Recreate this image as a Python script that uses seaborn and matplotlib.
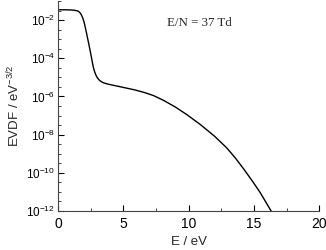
import numpy as np
import pandas as pd
import matplotlib
matplotlib.use("Agg")
import matplotlib.pyplot as plt
import matplotlib.ticker as mticker
import seaborn as sns

energy = [0, 0.5, 1.0, 1.3, 1.5, 1.6, 1.7, 1.8, 1.9, 2.0, 2.1, 2.25, 2.45, 2.6, 2.7, 2.8,
          2.9, 3.0, 3.1, 3.2, 3.35, 3.5, 3.75, 4.0, 4.75, 5.9, 6.6, 7.3, 8.07, 9.0, 9.86,
          10.88, 12.0, 12.93, 13.6, 14.2, 14.85, 15.48, 16.32, 16.5]
log_evdf = [-1.46, -1.46, -1.47, -1.49, -1.52, -1.56, -1.63, -1.74, -1.9, -2.12, -2.42,
            -2.9, -3.57, -4.1, -4.46, -4.7, -4.88, -5.01, -5.1, -5.17, -5.24, -5.29,
            -5.34, -5.38, -5.49, -5.66, -5.79, -5.95, -6.2, -6.56, -6.95, -7.46, -8.09,
            -8.7, -9.24, -9.78, -10.4, -11.03, -12.0, -12.2]
evdf = [10 ** v for v in log_evdf]
annotation = "E/N = 37 Td"

df = pd.DataFrame({"E": energy, "EVDF": evdf})

sns.set_style("ticks")
plt.rcParams["font.family"] = ["Liberation Sans", "DejaVu Sans"]
plt.rcParams["mathtext.fontset"] = "custom"
plt.rcParams["mathtext.rm"] = "Liberation Sans"

fig = plt.figure(figsize=(3.26, 2.5), dpi=100)
ax = fig.add_axes([0.178, 0.156, 0.801, 0.84])
sns.lineplot(data=df, x="E", y="EVDF", ax=ax, color="black", linewidth=1.0)
ax.set_yscale("log")
ax.set_xlim(0, 20)
ax.set_ylim(1e-12, 1e-1)

ax.set_yticks([10.0 ** k for k in range(-12, -1, 2)])
ax.yaxis.set_major_formatter(mticker.FuncFormatter(lambda v, p: r"$\mathregular{10^{%d}}$" % round(np.log10(v))))
ax.yaxis.set_minor_locator(mticker.FixedLocator([10 ** (k / 2) for k in range(-24, -1)]))
ax.yaxis.set_minor_formatter(mticker.NullFormatter())
ax.set_xticks([0, 5, 10, 15, 20])
ax.xaxis.set_minor_locator(mticker.MultipleLocator(2.5))

ax.tick_params(which="major", direction="in", length=4, width=0.8, colors="black")
ax.tick_params(which="minor", direction="in", length=2.5, width=0.6)
ax.tick_params(axis="y", which="major", labelsize=8.5, pad=2)
ax.tick_params(axis="x", which="major", labelsize=10, pad=4)
for s in ["top", "right"]:
    ax.spines[s].set_visible(False)
for s in ["left", "bottom"]:
    ax.spines[s].set_color("#444444")
    ax.spines[s].set_linewidth(0.8)

ax.set_xlabel("E / eV", fontsize=9.5, labelpad=4)
ax.set_ylabel(r"EVDF / eV$^{\mathregular{-3/2}}$", fontsize=9.5, labelpad=3)

ax.text(0.418, 0.893, annotation, transform=ax.transAxes, fontsize=9.3,
        family=["Liberation Serif", "DejaVu Serif"], va="center", ha="left")

fig.savefig("out.png", dpi=100)
